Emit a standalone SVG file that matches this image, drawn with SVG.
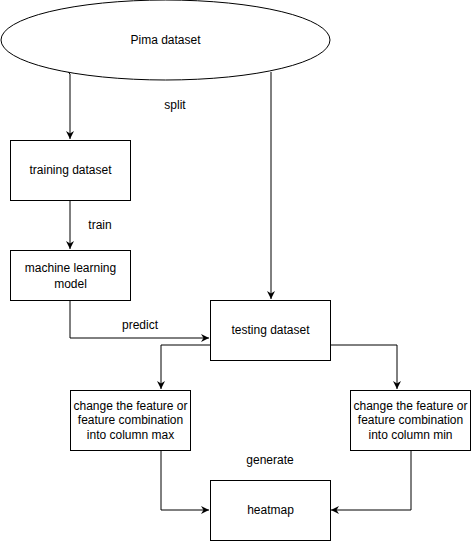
<svg xmlns="http://www.w3.org/2000/svg" width="471" height="542" viewBox="0 0 471 542">
<style>
.n{fill:#fff;stroke:#000;stroke-width:1}
.t{font-family:"Liberation Sans",Arial,sans-serif;font-size:12px;fill:#000;text-anchor:middle}
.c{fill:none;stroke:#000;stroke-width:1}
</style>
<defs>
<marker id="a" markerWidth="10" markerHeight="10" refX="8" refY="4" orient="auto" markerUnits="userSpaceOnUse">
<path d="M8,4 L0,0 L2.5,4 L0,8 Z" fill="#000"/>
</marker>
</defs>
<rect width="471" height="542" fill="#fff"/>
<g id="connectors">
<path class="c" d="M68,72 L70,74 L70,139" marker-end="url(#a)"/>
<path class="c" d="M271,72 L271,299" marker-end="url(#a)"/>
<path class="c" d="M70,200 L70,249" marker-end="url(#a)"/>
<path class="c" d="M70,300 L70,338 L209,338" marker-end="url(#a)"/>
<path class="c" d="M210,345 L161,345 L161,389" marker-end="url(#a)"/>
<path class="c" d="M330,345 L397,345 L397,389" marker-end="url(#a)"/>
<path class="c" d="M161,450 L161,510 L209,510" marker-end="url(#a)"/>
<path class="c" d="M411,450 L411,510 L331,510" marker-end="url(#a)"/>
<text class="t" x="175" y="109">split</text>
<text class="t" x="100" y="229">train</text>
<text class="t" x="140" y="329">predict</text>
<text class="t" x="270" y="464">generate</text>
</g>
<g id="pima">
<ellipse class="n" cx="165.5" cy="40" rx="164.5" ry="40"/>
<text class="t" x="165.5" y="44">Pima dataset</text>
</g>
<g id="training">
<rect class="n" x="10.5" y="140.5" width="120" height="60"/>
<text class="t" x="70.5" y="174">training dataset</text>
</g>
<g id="model">
<rect class="n" x="10.5" y="250.5" width="120" height="50"/>
<text class="t" x="70.5" y="272">machine learning</text>
<text class="t" x="70.5" y="288">model</text>
</g>
<g id="testing">
<rect class="n" x="210.5" y="300.5" width="120" height="60"/>
<text class="t" x="270.5" y="334">testing dataset</text>
</g>
<g id="max">
<rect class="n" x="70.5" y="390.5" width="120" height="60"/>
<text class="t" x="130.5" y="410">change the feature or</text>
<text class="t" x="130.5" y="424">feature combination</text>
<text class="t" x="130.5" y="439">into column max</text>
</g>
<g id="min">
<rect class="n" x="350.5" y="390.5" width="120" height="60"/>
<text class="t" x="410.5" y="410">change the feature or</text>
<text class="t" x="410.5" y="424">feature combination</text>
<text class="t" x="410.5" y="439">into column min</text>
</g>
<g id="heatmap">
<rect class="n" x="210.5" y="480.5" width="120" height="60"/>
<text class="t" x="270.5" y="514">heatmap</text>
</g>
</svg>
